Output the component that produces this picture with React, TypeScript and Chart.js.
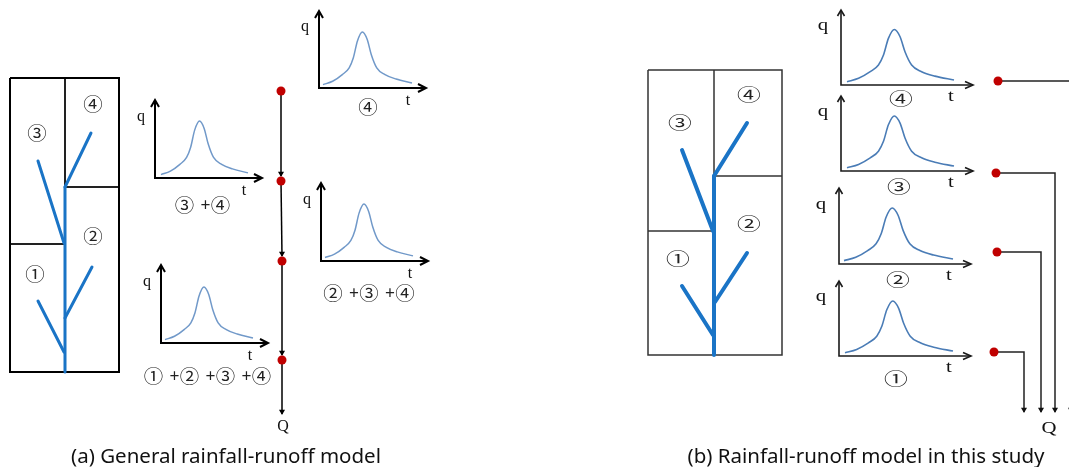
import React, { useEffect, useRef } from 'react';
import { Chart, registerables } from 'chart.js';

Chart.register(...registerables);

const W = 1069;
const H = 467;

// Hydrograph shape: fraction of the time span, fraction of the peak discharge
const shapeT = [0, 0.108, 0.217, 0.294, 0.341, 0.387, 0.443, 0.496, 0.542, 0.604, 0.697, 0.821, 1.0];
const shapeQ = [0.06, 0.12, 0.24, 0.36, 0.54, 0.84, 1.0, 0.87, 0.6, 0.36, 0.24, 0.16, 0.09];

// Sub-basin symbols
const subbasins = ['①', '②', '③', '④'];
// Sub-basins contributing to each hydrograph
const contribA = [[3, 4], [4], [2, 3, 4], [1, 2, 3, 4]];
const contribB = [[4], [3], [2], [1]];
// Axis letters and captions
const axisQ = 'q';
const axisT = 't';
const outletLabel = 'Q';
const captions = ['(a) General rainfall-runoff model', '(b) Rainfall-runoff model in this study'];

// ---------- layout (pixel space of the linear scales) ----------
const hydroA = [
  { ox: 155, oy: 178, top: 100, xEnd: 262, c0: 161, c1: 248, peak: 57, lx: 202.5, ly: 205 },
  { ox: 319, oy: 88, top: 11, xEnd: 426, c0: 323, c1: 412, peak: 56, lx: 368, ly: 107 },
  { ox: 321, oy: 261, top: 183, xEnd: 428, c0: 325, c1: 413, peak: 57, lx: 369, ly: 293 },
  { ox: 161, oy: 343, top: 265, xEnd: 268, c0: 165, c1: 253, peak: 56, lx: 207.5, ly: 376 },
];
const hydroB = [
  { ox: 841, oy: 85, top: 10, xEnd: 973, c0: 847, c1: 954, peak: 55.5, lx: 901, ly: 99 },
  { ox: 841, oy: 171, top: 96, xEnd: 973, c0: 847, c1: 954, peak: 55, lx: 899, ly: 187 },
  { ox: 839, oy: 264, top: 188, xEnd: 971, c0: 844, c1: 953, peak: 56, lx: 898, ly: 280 },
  { ox: 839, oy: 356, top: 281, xEnd: 971, c0: 845, c1: 953, peak: 55, lx: 896, ly: 379 },
];

const basinA = {
  rect: [10, 78, 119, 372],
  walls: [
    [[65, 78], [65, 187]],
    [[65, 187], [119, 187]],
    [[10, 244], [65, 244]],
  ],
  streams: [
    [[65, 187], [65, 372]],
    [[65, 187], [91, 133]],
    [[64, 243], [38, 161]],
    [[65, 318], [92, 267]],
    [[64, 352], [38, 301]],
  ],
  labels: [[35, 274], [93, 236], [37, 133], [93, 104]],
};
const basinB = {
  rect: [648, 70, 782, 355],
  walls: [
    [[714, 70], [714, 176]],
    [[714, 176], [782, 176]],
    [[648, 231], [714, 231]],
  ],
  streams: [
    [[714, 176], [714, 355]],
    [[714, 176], [747, 123]],
    [[713, 231], [682, 150]],
    [[715, 302], [747, 253]],
    [[713, 335], [682, 286]],
  ],
  labels: [[678, 259], [749, 224], [680, 123], [749, 95]],
};

const nodesA = [[281, 91], [281, 181], [282, 261], [282, 360]];
const flowA = [
  [[281, 91], [281, 176]],
  [[281, 181], [282, 256]],
  [[282, 261], [282, 355]],
  [[282, 360], [282, 414]],
];
const nodesB = [[998, 81], [996, 173], [997, 252], [994, 352]];
const flowB = [
  [[998, 81], [1071, 81], [1071, 412]],
  [[996, 173], [1055, 173], [1055, 412]],
  [[997, 252], [1041, 252], [1041, 412]],
  [[994, 352], [1024, 352], [1024, 412]],
];

type Txt = { text: string; x: number; y: number; font: string; color: string; sx: number; base: CanvasTextBaseline };

const CIRC_A = '18px "Noto Sans CJK KR"';
const CIRC_B = '17px "Noto Sans CJK KR"';
const SERIF = '16px "Liberation Serif"';
const CAPTION = '20.5px "Noto Sans"';

function seg(pts: number[][], color: string, width: number, extra: any = {}) {
  return {
    data: pts.map(([x, y]) => ({ x, y })),
    showLine: true,
    borderColor: color,
    backgroundColor: color,
    borderWidth: width,
    pointRadius: 0,
    pointHoverRadius: 0,
    fill: false,
    tension: 0,
    borderCapStyle: 'butt',
    borderJoinStyle: 'miter',
    ...extra,
  };
}

function hydroSets(h: any, axisColor: string, axisW: number, curveColor: string, curveW: number, yh: number[], xh: number[]) {
  const out: any[] = [];
  out.push(seg([[h.ox, h.top], [h.ox, h.oy], [h.xEnd, h.oy]], axisColor, axisW));
  out.push(seg([[h.ox - yh[0], h.top + yh[1]], [h.ox, h.top], [h.ox + yh[0], h.top + yh[1]]], axisColor, axisW));
  out.push(seg([[h.xEnd - xh[0], h.oy - xh[1]], [h.xEnd, h.oy], [h.xEnd - xh[0], h.oy + xh[1]]], axisColor, axisW));
  const pts = shapeT.map((f, i) => [h.c0 + f * (h.c1 - h.c0), h.oy - shapeQ[i] * h.peak]);
  out.push(seg(pts, curveColor, curveW, { cubicInterpolationMode: 'monotone', borderJoinStyle: 'round' }));
  return out;
}

function buildDatasets() {
  const ds: any[] = [];
  // nodes (first = drawn on top)
  ds.push({
    data: nodesA.map(([x, y]) => ({ x, y })),
    pointRadius: 4.5,
    pointStyle: 'circle',
    backgroundColor: '#c00000',
    borderWidth: 0,
    showLine: false,
  });
  ds.push({
    data: nodesB.map(([x, y]) => ({ x, y })),
    pointRadius: 4.5,
    pointStyle: 'circle',
    backgroundColor: '#c00000',
    borderWidth: 0,
    showLine: false,
  });
  // arrow heads of flow lines
  ds.push({
    data: flowA.map((f) => ({ x: f[f.length - 1][0], y: f[f.length - 1][1] - 2.5 })),
    pointRadius: 3.5,
    pointStyle: 'triangle',
    rotation: 180,
    backgroundColor: '#000',
    borderColor: '#000',
    borderWidth: 0,
    showLine: false,
  });
  ds.push({
    data: flowB.map((f) => ({ x: f[f.length - 1][0], y: f[f.length - 1][1] - 2.5 })),
    pointRadius: 3.5,
    pointStyle: 'triangle',
    rotation: 180,
    backgroundColor: '#111',
    borderColor: '#111',
    borderWidth: 0,
    showLine: false,
  });
  flowA.forEach((f) => ds.push(seg(f, '#000', 1.5)));
  flowB.forEach((f) => ds.push(seg(f, '#222', 1.5)));

  // basin A
  basinA.streams.forEach((s) => ds.push(seg(s, '#1a74c6', 3, { borderCapStyle: 'round' })));
  const [ax0, ay0, ax1, ay1] = basinA.rect;
  ds.push(seg([[ax0, ay0], [ax1, ay0], [ax1, ay1], [ax0, ay1], [ax0, ay0]], '#000', 2));
  basinA.walls.forEach((w) => ds.push(seg(w, '#222', 2)));
  // basin B
  basinB.streams.forEach((s) => ds.push(seg(s, '#1a74c6', 4, { borderCapStyle: 'round' })));
  const [bx0, by0, bx1, by1] = basinB.rect;
  ds.push(seg([[bx0, by0], [bx1, by0], [bx1, by1], [bx0, by1], [bx0, by0]], '#333', 1.5));
  basinB.walls.forEach((w) => ds.push(seg(w, '#333', 1.5)));

  hydroA.forEach((h) => hydroSets(h, '#000', 2, '#7199c9', 1.5, [4, 7], [8, 4]).forEach((d) => ds.push(d)));
  hydroB.forEach((h) => hydroSets(h, '#1a1a1a', 1.6, '#4a7cb6', 1.6, [3.5, 6], [8, 3.5]).forEach((d) => ds.push(d)));
  return ds;
}

function buildTexts(): Txt[] {
  const t: Txt[] = [];
  const add = (text: string, x: number, y: number, font: string, color: string, sx = 1, base: CanvasTextBaseline = 'middle') =>
    t.push({ text, x, y, font, color, sx, base });
  // basin labels
  basinA.labels.forEach(([x, y], i) => add(subbasins[i], x, y, CIRC_A, '#222', 1.08));
  basinB.labels.forEach(([x, y], i) => add(subbasins[i], x, y, CIRC_B, '#222', 1.4));
  // hydrograph labels (a)
  hydroA.forEach((h, k) => {
    const list = contribA[k];
    const n = list.length;
    const width = n * 14 + (n - 1) * 22;
    const start = h.lx - width / 2;
    list.forEach((d, i) => {
      add(subbasins[d - 1], start + 7 + i * 36, h.ly, CIRC_A, '#222', 1.08);
      if (i < n - 1) add('+', start + 28 + i * 36, h.ly, '17px "Noto Sans CJK KR"', '#222');
    });
    add(axisQ, h.ox - 14, h.oy - 57, SERIF, '#111', 1, 'alphabetic');
    add(axisT, h.ox + 89, h.oy + 17, SERIF, '#111', 1, 'alphabetic');
  });
  hydroB.forEach((h, k) => {
    contribB[k].forEach((d) => add(subbasins[d - 1], h.lx, h.ly, CIRC_B, '#222', 1.4));
    add(axisQ, h.ox - 18, h.oy - 55, SERIF, '#111', 1.3, 'alphabetic');
    add(axisT, h.ox + 110, h.oy + 16, SERIF, '#111', 1.3, 'alphabetic');
  });
  add(outletLabel, 283, 431, SERIF, '#111', 1, 'alphabetic');
  add(outletLabel, 1049, 433, SERIF, '#111', 1.3, 'alphabetic');
  add(captions[0], 226, 463, CAPTION, '#111', 1, 'alphabetic');
  add(captions[1], 866, 463, CAPTION, '#111', 1, 'alphabetic');
  return t;
}

const textPlugin = {
  id: 'diagramText',
  afterDatasetsDraw(chart: any) {
    const { ctx } = chart;
    const xs = chart.scales.x;
    const ys = chart.scales.y;
    for (const t of buildTexts()) {
      ctx.save();
      ctx.translate(xs.getPixelForValue(t.x), ys.getPixelForValue(t.y));
      ctx.scale(t.sx, 1);
      ctx.font = t.font;
      ctx.fillStyle = t.color;
      ctx.textAlign = 'center';
      ctx.textBaseline = t.base;
      ctx.fillText(t.text, 0, 0);
      ctx.restore();
    }
  },
};

export default function App() {
  const ref = useRef<HTMLCanvasElement | null>(null);
  useEffect(() => {
    const prevMargin = document.body.style.margin;
    document.body.style.margin = '0';
    const canvas = ref.current!;
    const chart = new Chart(canvas, {
      type: 'scatter',
      data: { datasets: buildDatasets() },
      options: {
        animation: false,
        responsive: false,
        devicePixelRatio: 1,
        events: [],
        layout: { padding: 0, autoPadding: false },
        plugins: { legend: { display: false }, tooltip: { enabled: false } },
        scales: {
          x: { type: 'linear', min: 0, max: W, display: false },
          y: { type: 'linear', min: 0, max: H, reverse: true, display: false },
        },
      },
      plugins: [textPlugin],
    } as any);
    return () => {
      chart.destroy();
      document.body.style.margin = prevMargin;
    };
  }, []);
  return (
    <div style={{ width: W, height: H, background: '#fff' }}>
      <canvas ref={ref} width={W} height={H} style={{ display: 'block', width: W, height: H }} />
    </div>
  );
}
